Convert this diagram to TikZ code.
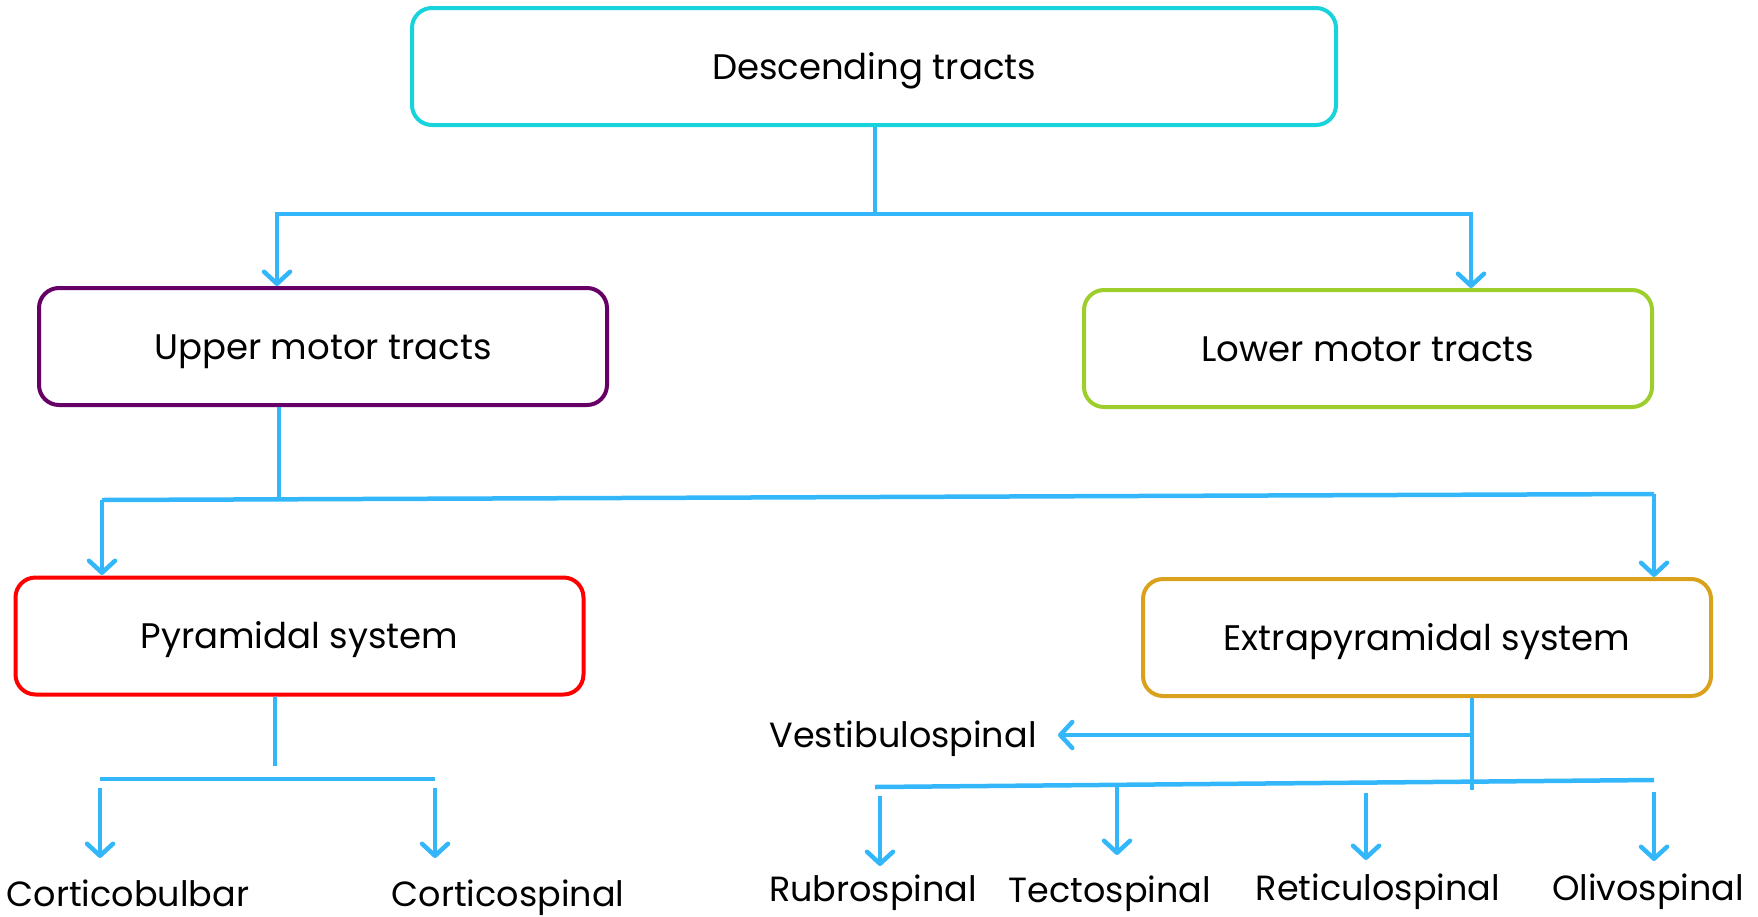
\documentclass[tikz,border=0pt]{standalone}
\usepackage{fontspec}
\setmainfont{Poppins}
\usetikzlibrary{arrows.meta}
\definecolor{cyanb}{HTML}{18D3DB}
\definecolor{purpb}{HTML}{660066}
\definecolor{greenb}{HTML}{9DCE2C}
\definecolor{redb}{HTML}{FF0000}
\definecolor{goldb}{HTML}{DAA21C}
\definecolor{conn}{HTML}{33B7FA}
\begin{document}
\begin{tikzpicture}[x=1pt,y=-1pt,
  box/.style={draw, line width=4pt, rounded corners=20pt, minimum width=568pt, minimum height=117pt, inner sep=0pt, text height=25pt, text depth=0pt, font=\fontsize{35.5}{40}\selectfont},
  lab/.style={inner sep=0pt, text height=25pt, text depth=0pt, font=\fontsize{35}{40}\selectfont},
  cline/.style={draw=conn, line width=4.5pt},
  arr/.style={cline, -{Straight Barb[length=12pt,width=26pt,round]}}
]
\useasboundingbox (0,0) rectangle (1758,916);
% boxes
\node[box, draw=cyanb, minimum width=924pt] (top) at (874,66.5) {Descending tracts};
\node[box, draw=purpb] (upper) at (323,346.5) {Upper motor tracts};
\node[box, draw=greenb] (lower) at (1368,348.5) {Lower motor tracts};
\node[box, draw=redb] (pyr) at (299.5,636) {Pyramidal system};
\node[box, draw=goldb] (ext) at (1427,637.5) {Extrapyramidal system};
% labels
\node[lab] (cb) at (128,894) {Corticobulbar};
\node[lab] (cs) at (508,894) {Corticospinal};
\node[lab] (vs) at (903,735) {Vestibulospinal};
\node[lab] (rs) at (873,889) {Rubrospinal};
\node[lab] (ts) at (1110,890) {Tectospinal};
\node[lab] (res) at (1378,888) {Reticulospinal};
\node[lab] (os) at (1648,888) {Olivospinal};
% level 1
\coordinate (j1) at (875,214);
\coordinate (uA) at (277,286);
\coordinate (lA) at (1471,288);
\draw[cline] (top.south -| j1) -- (j1);
\draw[cline, {Straight Barb[length=12pt,width=26pt,round]}-{Straight Barb[length=12pt,width=26pt,round]}] (uA) |- (j1) -| (lA);
% level 2
\coordinate (j2) at (279,498);
\coordinate (h2L) at (102,500);
\coordinate (h2R) at (1654,494);
\coordinate (pA) at (102,575);
\coordinate (eA) at (1654,577);
\draw[cline] (upper.south -| j2) -- (j2);
\draw[cline] (h2L) -- (h2R);
\draw[arr] (h2L) -- (pA);
\draw[arr] (h2R) -- (eA);
% level 3 left
\coordinate (j3) at (275,766);
\coordinate (h3L) at (100,779);
\coordinate (h3R) at (435,779);
\coordinate (cbS) at (100,788);
\coordinate (cbE) at (100,858);
\coordinate (csS) at (435,788);
\coordinate (csE) at (435,858);
\draw[cline] (pyr.south -| j3) -- (j3);
\draw[cline] (h3L) -- (h3R);
\draw[arr] (cbS) -- (cbE);
\draw[arr] (csS) -- (csE);
% level 3 right
\coordinate (j4) at (1472,790);
\coordinate (vj) at (1472,735);
\coordinate (vE) at (1058,735);
\coordinate (h4L) at (875,787);
\coordinate (h4R) at (1654,780);
\coordinate (rsS) at (880,796);
\coordinate (rsE) at (880,866);
\coordinate (tsS) at (1117,786);
\coordinate (tsE) at (1117,855);
\coordinate (reS) at (1366,793);
\coordinate (reE) at (1366,860);
\coordinate (osS) at (1654,792);
\coordinate (osE) at (1654,861);
\draw[cline] (ext.south -| j4) -- (j4);
\draw[arr] (vj) -- (vE);
\draw[cline] (h4L) -- (h4R);
\draw[arr] (rsS) -- (rsE);
\draw[arr] (tsS) -- (tsE);
\draw[arr] (reS) -- (reE);
\draw[arr] (osS) -- (osE);
\end{tikzpicture}
\end{document}
